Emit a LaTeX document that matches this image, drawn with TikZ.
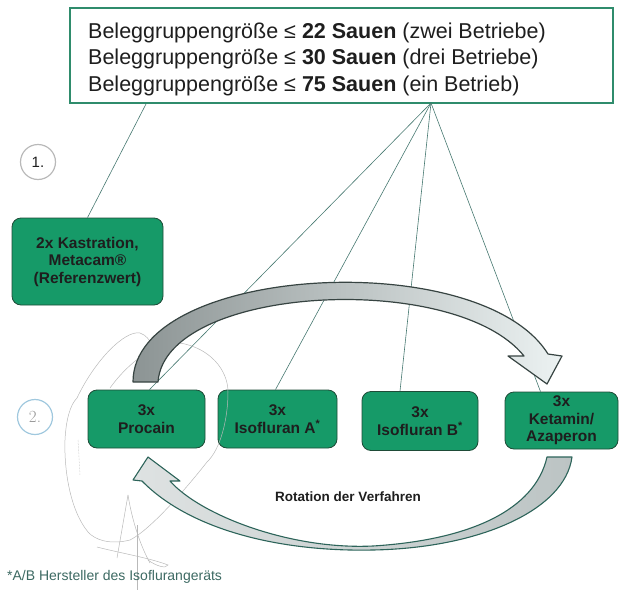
\documentclass[tikz,border=0pt]{standalone}
\usepackage{fontspec}
\setsansfont{Liberation Sans}
\usetikzlibrary{calc}
\definecolor{boxgreen}{RGB}{22,154,104}
\definecolor{boxedge}{RGB}{30,75,55}
\definecolor{textdark}{RGB}{30,30,30}
\definecolor{headedge}{RGB}{47,140,108}
\definecolor{linkcol}{RGB}{70,120,112}
\definecolor{arrowdark}{RGB}{140,148,148}
\definecolor{arrowlight}{RGB}{236,242,242}
\definecolor{arrowedge}{RGB}{55,68,66}
\definecolor{botlight}{RGB}{222,226,226}
\definecolor{botdark}{RGB}{188,196,196}
\definecolor{botedge}{RGB}{45,100,90}
\definecolor{notecol}{RGB}{60,105,98}
\definecolor{circblue}{RGB}{160,200,222}
\begin{document}
\begin{tikzpicture}[x=1pt,y=-1pt,
  stepbox/.style={draw=boxedge, line width=0.8pt, fill=boxgreen, rounded corners=9pt,
    inner sep=0pt, align=center, text=textdark,
    font=\sffamily\bfseries\fontsize{15.5}{17.5}\selectfont},
  headtext/.style={anchor=base west, inner sep=0pt, text=textdark,
    font=\sffamily\fontsize{21.5}{26}\selectfont},
  link/.style={draw=linkcol, line width=0.6pt},
  numcircle/.style={circle, minimum size=35pt, inner sep=0pt, line width=1.2pt},
  scribble/.style={draw=gray!55, line width=0.5pt}]
\useasboundingbox (0,0) rectangle (622,592);

% header box
\node[draw=headedge, line width=2pt, minimum width=543pt, minimum height=95pt, inner sep=0pt]
  (header) at (341.5,55.5) {};
\node[headtext] (l1) at (88,38) {Beleggruppengröße ≤ \textbf{22 Sauen} (zwei Betriebe)};
\node[headtext] (l2) at (88,64.5) {Beleggruppengröße ≤ \textbf{30 Sauen} (drei Betriebe)};
\node[headtext] (l3) at (88,91) {Beleggruppengröße ≤ \textbf{75 Sauen} (ein Betrieb)};

% boxes
\node[stepbox, minimum width=151pt, minimum height=87pt] (kast) at (87.5,261.5)
  {2x Kastration,\\Metacam®\\(Referenzwert)};
\node[stepbox, minimum width=117pt, minimum height=58pt] (proc) at (146.5,419)
  {3x\\Procain};
\node[stepbox, minimum width=119pt, minimum height=58pt] (isoa) at (277.5,419)
  {3x\\Isofluran A\textsuperscript{*}};
\node[stepbox, minimum width=116pt, minimum height=59pt] (isob) at (420,421)
  {3x\\Isofluran B\textsuperscript{*}};
\node[stepbox, minimum width=113pt, minimum height=57pt] (keta) at (561.5,420.5)
  {3x\\Ketamin/\\Azaperon};

% connectors from header
\coordinate (hub) at ($(header.south west)+(362,-1)$);
\coordinate (hubl) at ($(header.south west)+(77,0)$);
\draw[link] (hubl) -- (kast.north);
\draw[link] (hub) -- ($(proc.north)+(3,0)$);
\draw[link] (hub) -- ($(isoa.north)+(-2,0)$);
\draw[link] (hub) -- ($(isob.north)+(-20,0)$);
\draw[link] (hub) -- ($(keta.north)+(-21,0)$);

% faint pencil scribbles
\draw[scribble] (77,398) .. controls (95,360) and (125,330) .. (140,333)
  .. controls (146,335) and (150,340) .. (152,346);
\draw[scribble] (110,388) .. controls (130,360) and (160,340) .. (180,343)
  .. controls (210,348) and (228,370) .. (228,392)
  .. controls (228,420) and (220,450) .. (207,462)
  .. controls (185,490) and (150,530) .. (130,540)
  .. controls (110,545) and (95,540) .. (88,532)
  .. controls (70,510) and (64,470) .. (65,440)
  .. controls (66,420) and (70,405) .. (77,398);
\draw[scribble, densely dotted] (78,440) -- (80,475);
\draw[scribble] (128,495) -- (117,558);
\draw[scribble] (128,495) .. controls (132,520) and (140,545) .. (150,563);
\draw[scribble] (97,547) .. controls (120,553) and (150,558) .. (168,565)
  .. controls (166,569) and (156,566) .. (148,560);
\draw[scribble] (137,525) -- (137,590);

% top rotation arrow
\shade[left color=arrowdark, right color=arrowlight, draw=arrowedge, line width=1.2pt, line join=round]
  (133,382) .. controls (133,265) and (480,245) .. (548,354)
  -- (562,356) -- (547,384) -- (508,356) -- (524,356)
  .. controls (455,270) and (165,285) .. (158,382) -- cycle;

% bottom rotation arrow
\shade[left color=botlight, right color=botdark, draw=botedge, line width=1.1pt, line join=round]
  (572,457) .. controls (565,510) and (480,548) .. (373,550)
  .. controls (280,552) and (190,530) .. (142,481)
  -- (133,480) -- (148,457) -- (180,481) -- (170,481)
  .. controls (200,515) and (290,550) .. (373,546)
  .. controls (470,540) and (535,510) .. (547,457) -- cycle;

% numbering circles
\node[numcircle, draw=gray!55, text=textdark, font=\sffamily\fontsize{15}{15}\selectfont] (n1) at (38,162) {1.};
\node[numcircle, draw=circblue, text=gray!80, font=\rmfamily\fontsize{17}{17}\selectfont] (n2) at (35,417) {2.};

% labels
\node[inner sep=0pt, text=textdark, font=\sffamily\bfseries\fontsize{13.5}{15}\selectfont] (rot) at (348,497) {Rotation der Verfahren};
\node[anchor=west, inner sep=0pt, text=notecol, font=\sffamily\fontsize{14}{15}\selectfont] (note) at (7,577) {*A/B Hersteller des Isofluranger\"ats};
\end{tikzpicture}
\end{document}
